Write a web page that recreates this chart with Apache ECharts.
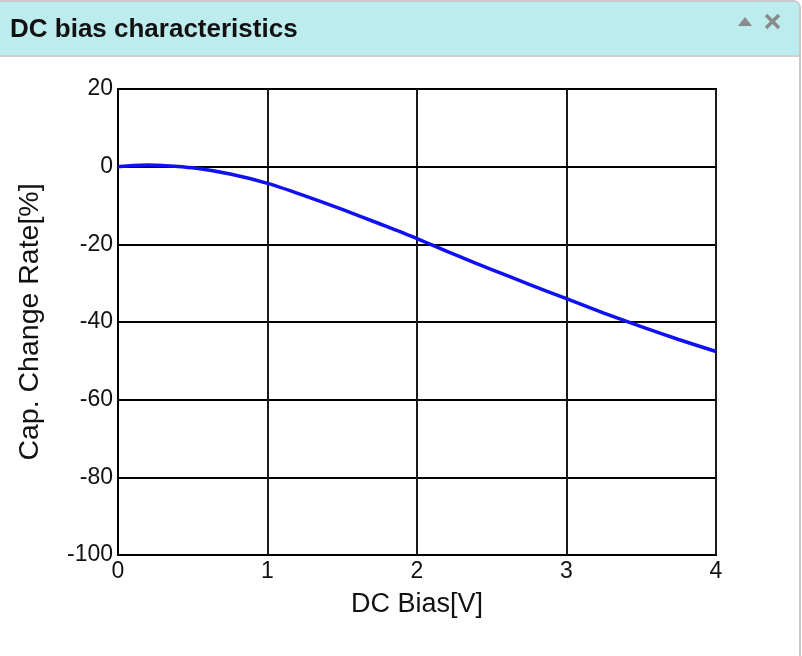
<!DOCTYPE html>
<html>
<head>
<meta charset="utf-8">
<title>DC bias characteristics</title>
<script src="https://cdn.jsdelivr.net/npm/echarts@6/dist/echarts.min.js"></script>
<style>
    html, body { margin: 0; padding: 0; background: #fff; }
    #chart { width: 802px; height: 656px; }
</style>
</head>
<body>
<div id="chart"></div>
<script>
    // values
    var biasVolts = [0, 0.1, 0.2, 0.3, 0.5, 0.75, 1.0, 1.25, 1.5, 1.75, 2.0, 2.25, 2.5, 2.75, 3.0, 3.25, 3.5, 3.75, 4.0];
    var capChange = [0.0, 0.3, 0.4, 0.3, -0.3, -1.9, -4.3, -7.5, -11.0, -14.7, -18.5, -22.6, -26.5, -30.3, -34.0, -37.7, -41.2, -44.5, -47.6];
    var xTicks = [0, 1, 2, 3, 4];
    var yTicks = [-100, -80, -60, -40, -20, 0, 20];

    var font = "Liberation Sans, Arial, Helvetica, sans-serif";
    var myChart = echarts.init(document.getElementById("chart"));

    var points = biasVolts.map(function (v, i) {
        return [v, capChange[i]];
    });

    var option = {
        animation: false,
        backgroundColor: "#fff",
        graphic: [
            {
                type: "rect",
                shape: { x: -4, y: 1, width: 804, height: 700, r: [0, 7, 0, 0] },
                style: { fill: "#fff", stroke: "#c9c9c9", lineWidth: 2 },
                z: -10
            },
            {
                type: "rect",
                shape: { x: -4, y: 2, width: 803, height: 53, r: [0, 6, 0, 0] },
                style: { fill: "#bdecee" },
                z: -9
            },
            {
                type: "line",
                shape: { x1: 0, y1: 56, x2: 800, y2: 56 },
                style: { stroke: "#cfcfcf", lineWidth: 2 },
                z: -8
            },
            {
                type: "text",
                left: 10,
                top: 17,
                style: {
                    text: "DC bias characteristics",
                    font: "bold 26px " + font,
                    fill: "#111"
                }
            },
            {
                // collapse arrow
                type: "polygon",
                shape: { points: [[738, 26], [752, 26], [745, 17]] },
                style: { fill: "#8a8a8a" }
            },
            {
                // close cross
                type: "line",
                shape: { x1: 766, y1: 15, x2: 779, y2: 28 },
                style: { stroke: "#8a8a8a", lineWidth: 3.5 }
            },
            {
                type: "line",
                shape: { x1: 779, y1: 15, x2: 766, y2: 28 },
                style: { stroke: "#8a8a8a", lineWidth: 3.5 }
            }
        ],
        grid: {
            left: 118,
            right: 86,
            top: 89,
            bottom: 101,
            show: true,
            borderColor: "#000",
            borderWidth: 2
        },
        xAxis: {
            type: "value",
            min: 0,
            max: 4,
            interval: 1,
            name: "DC Bias[V]",
            nameLocation: "middle",
            nameGap: 36,
            nameTextStyle: { fontSize: 27, fontFamily: font, color: "#111" },
            axisLine: { show: true, lineStyle: { color: "#000", width: 2 } },
            axisTick: { show: false },
            axisLabel: {
                fontSize: 23,
                fontFamily: font,
                color: "#111",
                margin: 5,
                formatter: function (v) {
                    return xTicks.indexOf(v) >= 0 ? String(v) : "";
                }
            },
            splitLine: { show: true, lineStyle: { color: "#1a1a1a", width: 2 } }
        },
        yAxis: {
            type: "value",
            min: -100,
            max: 20,
            interval: 20,
            name: "Cap. Change Rate[%]",
            nameLocation: "middle",
            nameGap: 73,
            nameTextStyle: { fontSize: 28.5, fontFamily: font, color: "#111" },
            axisLine: { show: true, lineStyle: { color: "#000", width: 2 } },
            axisTick: { show: false },
            axisLabel: {
                fontSize: 23,
                fontFamily: font,
                color: "#111",
                margin: 5,
                formatter: function (v) {
                    return yTicks.indexOf(v) >= 0 ? String(v) : "";
                }
            },
            splitLine: { show: true, lineStyle: { color: "#000", width: 2 } }
        },
        series: [
            {
                type: "line",
                data: points,
                smooth: 0.3,
                showSymbol: false,
                lineStyle: { color: "#1010f5", width: 3.5 },
                z: 5
            }
        ]
    };

    option && myChart.setOption(option);
</script>
</body>
</html>
